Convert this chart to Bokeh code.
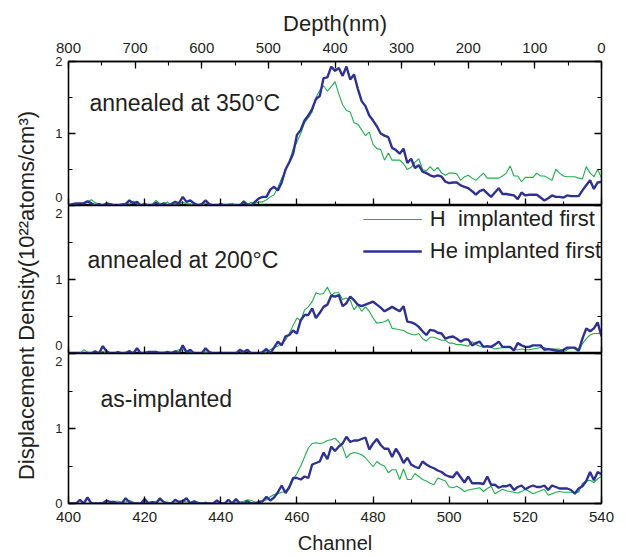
import math
from bokeh.plotting import figure
from bokeh.models import Range1d, LinearAxis, SingleIntervalTicker, Label, CustomJSTickFormatter
from bokeh.layouts import column, row
from bokeh.embed import file_html
from bokeh.resources import INLINE

# ---------------- data (channel 400..540, step 1) ----------------
channel = list(range(400, 541))

a350_He = [0.00, 0.02, 0.03, 0.03, 0.03, 0.06, 0.03, 0.00, 0.02, 0.00,
           0.03, 0.02, 0.00, 0.00, 0.01, 0.02, 0.07, 0.03, 0.05, 0.00,
           0.02, 0.00, 0.00, 0.04, 0.00, 0.03, 0.00, 0.02, 0.05, 0.03,
           0.12, 0.05, 0.07, 0.03, 0.00, 0.02, 0.07, 0.02, 0.00, 0.00,
           0.02, 0.00, 0.00, 0.00, 0.00, 0.00, 0.05, 0.01, 0.00, 0.05,
           0.10, 0.12, 0.12, 0.22, 0.26, 0.21, 0.32, 0.50, 0.60, 0.72,
           0.98, 1.05, 1.18, 1.25, 1.34, 1.48, 1.52, 1.77, 1.78, 1.93,
           1.87, 1.91, 1.80, 1.93, 1.75, 1.82, 1.62, 1.45, 1.38, 1.25,
           1.18, 1.10, 1.00, 0.97, 0.95, 0.80, 0.77, 0.72, 0.79, 0.59,
           0.65, 0.52, 0.56, 0.47, 0.45, 0.42, 0.40, 0.42, 0.40, 0.33,
           0.31, 0.32, 0.32, 0.28, 0.26, 0.24, 0.20, 0.15, 0.20, 0.22,
           0.17, 0.12, 0.18, 0.24, 0.16, 0.16, 0.15, 0.14, 0.09, 0.18,
           0.14, 0.15, 0.15, 0.15, 0.11, 0.07, 0.10, 0.14, 0.12, 0.12,
           0.11, 0.14, 0.13, 0.13, 0.13, 0.21, 0.28, 0.35, 0.23, 0.32,
           0.33]

a350_H = [0.00, 0.00, 0.02, 0.03, 0.03, 0.05, 0.08, 0.04, 0.02, 0.00,
          0.02, 0.00, 0.00, 0.00, 0.02, 0.03, 0.02, 0.06, 0.02, 0.00,
          0.00, 0.00, 0.02, 0.07, 0.03, 0.02, 0.05, 0.00, 0.02, 0.02,
          0.05, 0.02, 0.02, 0.00, 0.02, 0.00, 0.03, 0.02, 0.00, 0.00,
          0.00, 0.00, 0.02, 0.03, 0.00, 0.00, 0.07, 0.02, 0.04, 0.03,
          0.05, 0.05, 0.08, 0.12, 0.15, 0.25, 0.38, 0.48, 0.62, 0.78,
          0.88, 1.00, 1.15, 1.22, 1.30, 1.50, 1.60, 1.66, 1.59, 1.65,
          1.72, 1.55, 1.40, 1.32, 1.30, 1.15, 1.13, 1.05, 0.97, 1.02,
          0.85, 0.79, 0.78, 0.63, 0.73, 0.63, 0.63, 0.63, 0.58, 0.50,
          0.53, 0.60, 0.65, 0.50, 0.48, 0.54, 0.48, 0.53, 0.45, 0.42,
          0.45, 0.45, 0.44, 0.35, 0.40, 0.42, 0.38, 0.35, 0.40, 0.45,
          0.38, 0.38, 0.38, 0.38, 0.41, 0.45, 0.55, 0.41, 0.41, 0.33,
          0.39, 0.39, 0.39, 0.45, 0.41, 0.41, 0.38, 0.35, 0.50, 0.45,
          0.41, 0.40, 0.40, 0.40, 0.38, 0.37, 0.54, 0.45, 0.40, 0.50,
          0.38]

a200_He = [0.00, 0.00, 0.00, 0.00, 0.00, 0.00, 0.00, 0.03, 0.00, 0.10,
           0.03, 0.00, 0.00, 0.02, 0.00, 0.00, 0.03, 0.00, 0.07, 0.00,
           0.00, 0.02, 0.02, 0.02, 0.00, 0.00, 0.02, 0.00, 0.03, 0.00,
           0.11, 0.02, 0.05, 0.00, 0.00, 0.00, 0.07, 0.02, 0.00, 0.00,
           0.00, 0.00, 0.00, 0.00, 0.00, 0.05, 0.02, 0.05, 0.00, 0.00,
           0.00, 0.02, 0.06, 0.00, 0.08, 0.16, 0.11, 0.23, 0.25, 0.31,
           0.27, 0.45, 0.52, 0.52, 0.61, 0.48, 0.55, 0.63, 0.66, 0.78,
           0.77, 0.79, 0.64, 0.68, 0.77, 0.72, 0.66, 0.64, 0.66, 0.68,
           0.70, 0.66, 0.62, 0.57, 0.60, 0.63, 0.60, 0.57, 0.64, 0.43,
           0.42, 0.40, 0.36, 0.30, 0.25, 0.32, 0.31, 0.28, 0.27, 0.20,
           0.22, 0.23, 0.20, 0.16, 0.19, 0.19, 0.11, 0.14, 0.16, 0.09,
           0.10, 0.09, 0.12, 0.16, 0.09, 0.09, 0.09, 0.04, 0.14, 0.11,
           0.09, 0.09, 0.11, 0.11, 0.11, 0.05, 0.06, 0.05, 0.04, 0.03,
           0.05, 0.08, 0.08, 0.08, 0.04, 0.20, 0.34, 0.30, 0.34, 0.42,
           0.23]

a200_H = [0.00, 0.00, 0.00, 0.00, 0.05, 0.02, 0.00, 0.00, 0.00, 0.03,
          0.00, 0.00, 0.00, 0.00, 0.00, 0.02, 0.04, 0.00, 0.00, 0.00,
          0.02, 0.03, 0.02, 0.03, 0.02, 0.02, 0.03, 0.02, 0.03, 0.05,
          0.06, 0.02, 0.02, 0.00, 0.00, 0.00, 0.02, 0.00, 0.00, 0.00,
          0.00, 0.00, 0.00, 0.00, 0.00, 0.00, 0.02, 0.03, 0.00, 0.00,
          0.00, 0.00, 0.02, 0.05, 0.08, 0.10, 0.14, 0.18, 0.27, 0.38,
          0.48, 0.44, 0.59, 0.63, 0.70, 0.82, 0.80, 0.81, 0.90, 0.79,
          0.82, 0.82, 0.73, 0.75, 0.72, 0.59, 0.66, 0.57, 0.63, 0.57,
          0.48, 0.41, 0.42, 0.43, 0.46, 0.34, 0.33, 0.32, 0.31, 0.28,
          0.26, 0.25, 0.27, 0.20, 0.17, 0.22, 0.22, 0.20, 0.18, 0.18,
          0.14, 0.14, 0.12, 0.12, 0.11, 0.10, 0.16, 0.12, 0.10, 0.09,
          0.09, 0.08, 0.06, 0.07, 0.08, 0.08, 0.08, 0.05, 0.05, 0.06,
          0.05, 0.05, 0.06, 0.07, 0.08, 0.08, 0.06, 0.06, 0.06, 0.06,
          0.02, 0.05, 0.08, 0.06, 0.02, 0.13, 0.20, 0.25, 0.27, 0.27,
          0.28]

asimp_He = [0.00, 0.00, 0.00, 0.05, 0.00, 0.08, 0.00, 0.00, 0.00, 0.00,
            0.04, 0.02, 0.02, 0.00, 0.00, 0.07, 0.02, 0.00, 0.00, 0.00,
            0.06, 0.00, 0.02, 0.00, 0.07, 0.02, 0.00, 0.00, 0.05, 0.02,
            0.03, 0.07, 0.00, 0.03, 0.00, 0.00, 0.00, 0.00, 0.00, 0.04,
            0.00, 0.00, 0.05, 0.00, 0.06, 0.00, 0.00, 0.03, 0.00, 0.00,
            0.02, 0.03, 0.09, 0.04, 0.08, 0.15, 0.24, 0.14, 0.22, 0.34,
            0.34, 0.32, 0.36, 0.34, 0.52, 0.54, 0.56, 0.68, 0.59, 0.76,
            0.70, 0.76, 0.80, 0.89, 0.82, 0.84, 0.84, 0.86, 0.88, 0.72,
            0.80, 0.86, 0.78, 0.73, 0.73, 0.62, 0.73, 0.65, 0.54, 0.61,
            0.52, 0.49, 0.47, 0.56, 0.52, 0.49, 0.47, 0.44, 0.42, 0.38,
            0.36, 0.35, 0.42, 0.35, 0.28, 0.36, 0.27, 0.27, 0.27, 0.26,
            0.36, 0.25, 0.25, 0.21, 0.23, 0.23, 0.25, 0.18, 0.22, 0.24,
            0.19, 0.22, 0.24, 0.22, 0.22, 0.24, 0.18, 0.24, 0.22, 0.20,
            0.20, 0.20, 0.18, 0.13, 0.20, 0.23, 0.30, 0.42, 0.31, 0.42,
            0.39]

asimp_H = [0.00, 0.00, 0.00, 0.00, 0.00, 0.00, 0.00, 0.00, 0.00, 0.00,
           0.00, 0.02, 0.03, 0.03, 0.02, 0.02, 0.04, 0.02, 0.00, 0.00,
           0.02, 0.02, 0.02, 0.03, 0.04, 0.02, 0.02, 0.00, 0.02, 0.03,
           0.03, 0.02, 0.02, 0.03, 0.02, 0.00, 0.02, 0.00, 0.00, 0.00,
           0.00, 0.00, 0.00, 0.00, 0.02, 0.02, 0.03, 0.05, 0.04, 0.02,
           0.02, 0.03, 0.05, 0.09, 0.12, 0.13, 0.15, 0.16, 0.20, 0.32,
           0.40, 0.50, 0.62, 0.74, 0.80, 0.81, 0.80, 0.81, 0.84, 0.85,
           0.87, 0.82, 0.75, 0.61, 0.66, 0.68, 0.67, 0.65, 0.61, 0.55,
           0.49, 0.56, 0.52, 0.50, 0.41, 0.45, 0.45, 0.32, 0.46, 0.32,
           0.32, 0.40, 0.36, 0.32, 0.30, 0.27, 0.25, 0.34, 0.32, 0.30,
           0.22, 0.21, 0.23, 0.20, 0.16, 0.18, 0.19, 0.20, 0.21, 0.16,
           0.20, 0.23, 0.13, 0.16, 0.19, 0.17, 0.16, 0.15, 0.14, 0.16,
           0.19, 0.16, 0.13, 0.15, 0.17, 0.19, 0.11, 0.13, 0.15, 0.16,
           0.15, 0.15, 0.15, 0.15, 0.15, 0.27, 0.30, 0.31, 0.28, 0.33,
           0.36]

panel_titles = ["annealed at 350°C", "annealed at 200°C", "as-implanted"]
legend_labels = ["H  implanted first", "He implanted first"]
x_label = "Channel"
top_label = "Depth(nm)"
y_label = "Displacement Density(10²²atoms/cm³)"
channel_range = (400, 540)
depth_range = (800, 0)

# ---------------- style ----------------
FONT = "Liberation Sans"
TXT = "#231f20"
GREEN = "#1fae4b"
BLUE = "#2e3192"
YLAB_W = 40
TOTAL_H = 556


def style_axis(ax, show_labels=True, size="14px", standoff=6):
    ax.major_tick_in = 7
    ax.major_tick_out = 0
    ax.minor_tick_in = 4
    ax.minor_tick_out = 0
    ax.axis_line_width = 1.3
    ax.axis_line_color = "black"
    ax.major_tick_line_width = 1.3
    ax.minor_tick_line_width = 1.1
    ax.major_tick_line_color = "black"
    ax.minor_tick_line_color = "black"
    ax.major_label_text_font = FONT
    ax.major_label_text_color = TXT
    ax.axis_label_text_font = FONT
    ax.axis_label_text_font_style = "normal"
    ax.axis_label_text_color = TXT
    if show_labels:
        ax.major_label_text_font_size = size
        ax.major_label_standoff = standoff
    else:
        ax.formatter = CustomJSTickFormatter(code="return ''")
        ax.major_label_text_font_size = "1px"
        ax.major_label_standoff = 0


def make_panel(frame_h, y_overrides, top=False, bottom=False):
    p = figure(frame_width=533, frame_height=frame_h,
               x_range=Range1d(*channel_range), y_range=Range1d(0, 2),
               output_backend="svg", toolbar_location=None,
               x_axis_location=None, y_axis_location=None,
               min_border=0)
    p.min_border_left = 68 - YLAB_W
    p.min_border_right = 20
    p.min_border_top = 61 if top else 0
    p.min_border_bottom = 0
    p.outline_line_color = "black"
    p.outline_line_width = 1.3
    p.xgrid.grid_line_color = None
    p.ygrid.grid_line_color = None

    bx = LinearAxis(ticker=SingleIntervalTicker(interval=20, num_minor_ticks=2))
    style_axis(bx, show_labels=bottom, size="15px", standoff=8)
    if bottom:
        bx.axis_label = x_label
        bx.axis_label_text_font_size = "20px"
        bx.axis_label_standoff = 7
    p.add_layout(bx, "below")

    ly = LinearAxis(ticker=SingleIntervalTicker(interval=1, num_minor_ticks=2))
    style_axis(ly, show_labels=True, size="13px", standoff=6)
    ly.major_label_overrides = y_overrides
    ly.major_label_text_line_height = 0.05
    p.add_layout(ly, "left")

    ry = LinearAxis(ticker=SingleIntervalTicker(interval=1, num_minor_ticks=2))
    style_axis(ry, show_labels=False)
    p.add_layout(ry, "right")

    if top:
        p.extra_x_ranges = {"depth": Range1d(*depth_range)}
        tx = LinearAxis(x_range_name="depth",
                        ticker=SingleIntervalTicker(interval=100, num_minor_ticks=2))
        style_axis(tx, show_labels=True, size="15px", standoff=9)
        tx.axis_label = top_label
        tx.axis_label_text_font_size = "22px"
        tx.axis_label_standoff = 4
        p.add_layout(tx, "above")
    return p


p_top = make_panel(144, {0: "0\n", 1: "1", 2: "2"}, top=True)
p_mid = make_panel(148, {0: "0\n", 1: "1", 2: "\n2"})
p_bot = make_panel(150, {0: "0", 1: "1", 2: "\n2"}, bottom=True)

series = [(p_top, a350_H, a350_He), (p_mid, a200_H, a200_He), (p_bot, asimp_H, asimp_He)]
for p, h, he in series:
    if p is p_mid:
        p.line(channel, h, line_color=GREEN, line_width=1.1, legend_label=legend_labels[0])
        p.line(channel, he, line_color=BLUE, line_width=2.4, legend_label=legend_labels[1])
    else:
        p.line(channel, h, line_color=GREEN, line_width=1.1)
        p.line(channel, he, line_color=BLUE, line_width=2.4)

title_pos = [(405.5, 1.42), (405.0, 1.26), (408.4, 1.40)]
for p, t, (tx, ty) in zip([p_top, p_mid, p_bot], panel_titles, title_pos):
    p.add_layout(Label(x=tx, y=ty, text=t, text_font=FONT, text_font_size="23px",
                       text_color=TXT, text_baseline="alphabetic", text_align="left"))

lg = p_mid.legend[0]
lg.location = "top_right"
lg.margin = 0
lg.padding = 0
lg.border_line_color = None
lg.background_fill_alpha = 0
lg.label_text_font = FONT
lg.label_text_font_size = "22px"
lg.label_text_color = TXT
lg.glyph_width = 59
lg.glyph_height = 28
lg.label_height = 28
lg.label_standoff = 8
lg.spacing = 4

# y-axis title, in its own narrow strip left of the stacked panels
p_ylab = figure(width=YLAB_W, height=TOTAL_H, x_range=Range1d(0, YLAB_W),
                y_range=Range1d(0, TOTAL_H), output_backend="svg",
                toolbar_location=None, x_axis_location=None, y_axis_location=None,
                min_border=0)
p_ylab.outline_line_color = None
p_ylab.xgrid.grid_line_color = None
p_ylab.ygrid.grid_line_color = None
p_ylab.add_layout(Label(x=26, y=TOTAL_H - 295, text=y_label, angle=math.pi / 2,
                        text_font=FONT, text_font_size="22px", text_color=TXT,
                        text_align="center", text_baseline="middle"))

layout = row(p_ylab, column(p_top, p_mid, p_bot, spacing=0), spacing=0)
open("out.html", "w").write(file_html(layout, INLINE))
